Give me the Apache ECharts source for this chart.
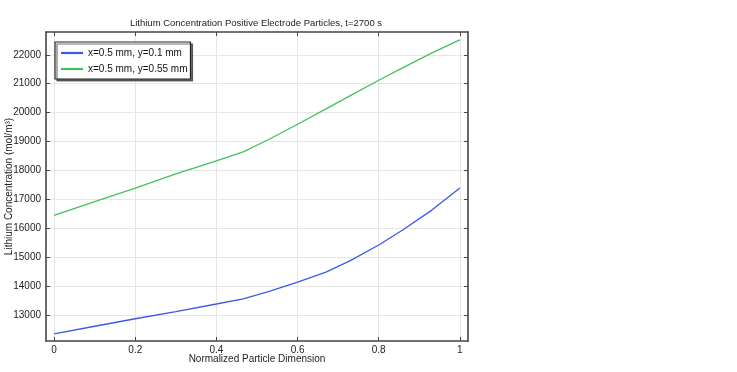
<!DOCTYPE html>
<html><head><meta charset="utf-8">
<script src="https://cdn.jsdelivr.net/npm/echarts@6/dist/echarts.min.js"></script>
<style>html,body{margin:0;padding:0;background:#fff}#c{width:737px;height:372px}</style>
</head><body><div id="c"></div>
<script>
const xValues = [0, 0.1, 0.2, 0.3, 0.4, 0.466, 0.53, 0.6, 0.67, 0.73, 0.8, 0.86, 0.93, 1];
const blueValues = [12350, 12610, 12870, 13120, 13380, 13560, 13820, 14140, 14480, 14880, 15420, 15950, 16620, 17390];
const greenValues = [16450, 16920, 17390, 17880, 18330, 18640, 19080, 19600, 20130, 20590, 21120, 21560, 22060, 22520];
const seriesNames = ['x=0.5 mm, y=0.1 mm', 'x=0.5 mm, y=0.55 mm'];
const xTicks = [0, 0.2, 0.4, 0.6, 0.8, 1];
const yTicks = [13000, 14000, 15000, 16000, 17000, 18000, 19000, 20000, 21000, 22000];
const titleText = 'Lithium Concentration Positive Electrode Particles, t=2700 s';
const xLabel = 'Normalized Particle Dimension';
const yLabel = 'Lithium Concentration (mol/m\u00B3)';

const font = 'Liberation Sans, Arial, sans-serif';
const axisColor = '#444';
const xMin = -0.02, xMax = 1.02, yMin = 12100, yMax = 22790;

function pairs(ys){ return xValues.map((x,i)=>[x, ys[i]]); }

const chart = echarts.init(document.getElementById('c'));
chart.setOption({
  animation: false,
  title: { text: titleText, left: 251, textAlign: 'center', top: 13,
    textStyle: { fontFamily: font, fontSize: 9.5, fontWeight: 'normal', color: '#222' } },
  grid: { left: 46, right: 269, top: 32, bottom: 31, containLabel: false, outerBoundsMode: 'none' },
  legend: {
    orient: 'vertical', left: 55, top: 42, padding: [6, 3, 5, 6], itemGap: 6,
    itemWidth: 22, itemHeight: 8,
    borderColor: '#222', borderWidth: 1.2, backgroundColor: '#fff',
    shadowColor: 'rgba(0,0,0,0.55)', shadowOffsetX: 2, shadowOffsetY: 2, shadowBlur: 0,
    textStyle: { fontFamily: font, fontSize: 10, color: '#111' },
    icon: 'path://M0,0 L10,0 L10,1 L0,1 Z',
    data: seriesNames
  },
  xAxis: [{
    type: 'value', min: xMin, max: xMax, position: 'bottom',
    name: xLabel, nameLocation: 'middle', nameGap: 13, nameMoveOverlap: false,
    nameTextStyle: { fontFamily: font, fontSize: 10, color: '#222' },
    axisLine: { show: true, onZero: false, lineStyle: { color: axisColor, width: 1.6 } },
    axisTick: { show: true, customValues: xTicks, length: 4, inside: true, lineStyle: { color: axisColor } },
    axisLabel: { customValues: xTicks, fontFamily: font, fontSize: 10, color: '#222', margin: 4,
      formatter: v => String(+(+v).toFixed(2)) },
    splitLine: { show: true, lineStyle: { color: '#e6e6e6', width: 1 } }
  }, {
    type: 'value', min: xMin, max: xMax, position: 'top',
    axisLine: { show: true, onZero: false, lineStyle: { color: axisColor, width: 1.6 } },
    axisTick: { show: true, customValues: xTicks, length: 4, inside: true, lineStyle: { color: axisColor } },
    axisLabel: { show: false }, splitLine: { show: false }
  }],
  yAxis: [{
    type: 'value', min: yMin, max: yMax, position: 'left',
    name: yLabel, nameLocation: 'middle', nameGap: 32, nameMoveOverlap: false,
    nameTextStyle: { fontFamily: font, fontSize: 10, color: '#222' },
    axisLine: { show: true, onZero: false, lineStyle: { color: axisColor, width: 1.6 } },
    axisTick: { show: true, customValues: yTicks, length: 4, inside: true, lineStyle: { color: axisColor } },
    axisLabel: { customValues: yTicks, fontFamily: font, fontSize: 10, color: '#222', margin: 5,
      formatter: v => String(Math.round(+v)) },
    splitLine: { show: true, lineStyle: { color: '#e6e6e6', width: 1 } }
  }, {
    type: 'value', min: yMin, max: yMax, position: 'right',
    axisLine: { show: true, onZero: false, lineStyle: { color: axisColor, width: 1.6 } },
    axisTick: { show: true, customValues: yTicks, length: 4, inside: true, lineStyle: { color: axisColor } },
    axisLabel: { show: false }, splitLine: { show: false }
  }],
  series: [{
    name: seriesNames[0], type: 'line', data: pairs(blueValues), showSymbol: false,
    lineStyle: { color: '#3a5be8', width: 1.3 }, itemStyle: { color: '#3a5be8' }
  }, {
    name: seriesNames[1], type: 'line', data: pairs(greenValues), showSymbol: false,
    lineStyle: { color: '#42c25a', width: 1.3 }, itemStyle: { color: '#42c25a' }
  }]
});
</script></body></html>
